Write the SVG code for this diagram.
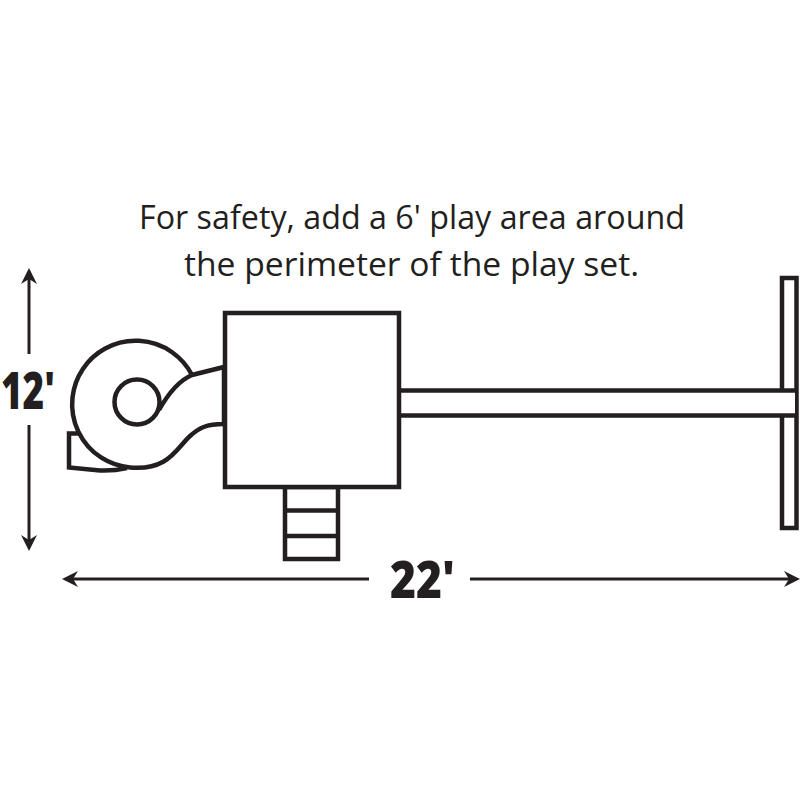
<svg xmlns="http://www.w3.org/2000/svg" width="800" height="800" viewBox="0 0 800 800">
<defs>
<marker id="head" viewBox="0 0 16 18" refX="11" refY="9" markerWidth="16" markerHeight="18" markerUnits="userSpaceOnUse" orient="auto-start-reverse"><path d="M16 9L0 1L5 9L0 17Z" fill="#231f20"/></marker>
</defs>
<style>
.o{fill:#fff;stroke:#231f20;stroke-width:4.5}
.l{fill:none;stroke:#231f20;stroke-width:4.5;stroke-linejoin:miter}
.d{fill:none;stroke:#231f20;stroke-width:3}
.t{font-family:"Open Sans","Noto Sans",sans-serif;font-size:33px;fill:#231f20}
.b{font-family:"Open Sans","Noto Sans",sans-serif;font-weight:800;font-size:52px;fill:#231f20}
</style>
<rect width="800" height="800" fill="#fff"/>
<g id="note">
<text class="t" x="139" y="229" textLength="546" lengthAdjust="spacingAndGlyphs">For safety, add a 6' play area around</text>
<text class="t" x="184" y="276" textLength="455" lengthAdjust="spacingAndGlyphs">the perimeter of the play set.</text>
</g>
<g id="swing-beam"><rect class="o" x="782" y="278" width="14.500" height="250"/></g>
<g id="bridge">
<path d="M401 390.500H795V415.500H401Z" fill="#fff"/>
<path class="l" d="M401 390.500H796.500M401 415.500H796.500"/>
</g>
<g id="ladder">
<rect class="o" x="285" y="487" width="53" height="72"/>
<path class="l" d="M285 510.500H338M285 536H338"/>
</g>
<g id="slide">
<path class="l" d="M80 433.500H69V467.500L100 470.500Q114 471 127 468"/>
<path class="o" d="M192 375A63.500 63.500 0 1 0 130 467.500C168 471 176 449 190 436C199 428 206 424 224 424V367L192 375C178 381 168 394 159 410"/>
<circle class="o" cx="137" cy="402" r="22.500"/>
</g>
<g id="tower"><rect class="o" x="225" y="313" width="174" height="174"/></g>
<g id="connectors">
<path class="d" d="M29 354V273" marker-end="url(#head)"/>
<path class="d" d="M29 425V546" marker-end="url(#head)"/>
<path class="d" d="M369 579H67" marker-end="url(#head)"/>
<path class="d" d="M470 579H795" marker-end="url(#head)"/>
</g>
<g id="labels">
<text class="b" x="1" y="409" textLength="54" lengthAdjust="spacingAndGlyphs">12'</text>
<text class="b" x="390" y="598" textLength="65" lengthAdjust="spacingAndGlyphs">22'</text>
</g>
</svg>
